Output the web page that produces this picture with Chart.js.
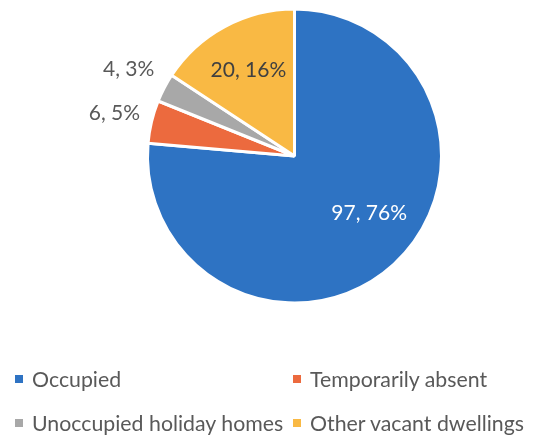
<!DOCTYPE html>
<html>
<head>
<meta charset="utf-8">
<script src="https://cdn.jsdelivr.net/npm/chart.js@4/dist/chart.umd.min.js"></script>
<style>
  html, body { margin: 0; padding: 0; background: #fff; }
  #wrap { position: relative; width: 547px; height: 439px; overflow: hidden; }
  #c { position: absolute; left: 0; top: 0; }
  .lg { position: absolute; font-family: Lato, "Open Sans", sans-serif; font-size: 21.3px; color: #595959; white-space: nowrap; line-height: 24px; }
  .lg i { position: absolute; left: -17px; top: 8px; width: 8px; height: 8px; }
</style>
</head>
<body>
<div id="wrap">
  <canvas id="c" width="547" height="439"></canvas>
</div>
<script>
const categories = ["Occupied", "Temporarily absent", "Unoccupied holiday homes", "Other vacant dwellings"];
const values = [97, 6, 4, 20];
const colors = ["#2E73C3", "#EC6A3E", "#A8A8A8", "#F9B944"];

const total = values.reduce((a, b) => a + b, 0);
const labelTexts = values.map(v => v + ", " + Math.round(v / total * 100) + "%");

// label placement (radial fraction, angle shift in degrees, text colour, alignment)
const labelCfg = [
  { fr: 0.64, shift: -10, color: "#ffffff", align: "center" },
  { fr: 1.09, shift: 2, color: "#595959", align: "right" },
  { fr: 1.12, shift: 4, color: "#595959", align: "right" },
  { fr: 0.66, shift: 0, color: "#404040", align: "center" }
];

const labelPlugin = {
  id: "sliceLabels",
  afterDatasetsDraw(chart) {
    const ctx = chart.ctx;
    const meta = chart.getDatasetMeta(0);
    ctx.save();
    ctx.font = "21px Lato, 'Open Sans', sans-serif";
    ctx.textBaseline = "middle";
    meta.data.forEach((arc, i) => {
      const p = arc.getProps(["x", "y", "startAngle", "endAngle", "outerRadius"], true);
      const cfg = labelCfg[i];
      const mid = (p.startAngle + p.endAngle) / 2 + cfg.shift * Math.PI / 180;
      const r = p.outerRadius * cfg.fr;
      const x = p.x + Math.cos(mid) * r;
      const y = p.y + Math.sin(mid) * r;
      ctx.fillStyle = cfg.color;
      ctx.textAlign = cfg.align;
      ctx.fillText(labelTexts[i], x, y);
    });
    ctx.restore();
  }
};

new Chart(document.getElementById("c"), {
  type: "pie",
  data: {
    labels: categories,
    datasets: [{
      data: values,
      backgroundColor: colors,
      borderColor: "#ffffff",
      borderWidth: 3
    }]
  },
  options: {
    responsive: false,
    animation: false,
    events: [],
    layout: { padding: { left: 146, right: 104, top: 7, bottom: 134 } },
    plugins: {
      legend: { display: false },
      tooltip: { enabled: false }
    }
  },
  plugins: [labelPlugin]
});

// legend built from the category & colour arrays
const legendPos = [[32, 367], [310, 367], [32, 411], [310, 411]];
const wrap = document.getElementById("wrap");
categories.forEach((name, i) => {
  const d = document.createElement("div");
  d.className = "lg";
  d.style.left = legendPos[i][0] + "px";
  d.style.top = legendPos[i][1] + "px";
  const m = document.createElement("i");
  m.style.background = colors[i];
  d.appendChild(m);
  d.appendChild(document.createTextNode(name));
  wrap.appendChild(d);
});
</script>
</body>
</html>
